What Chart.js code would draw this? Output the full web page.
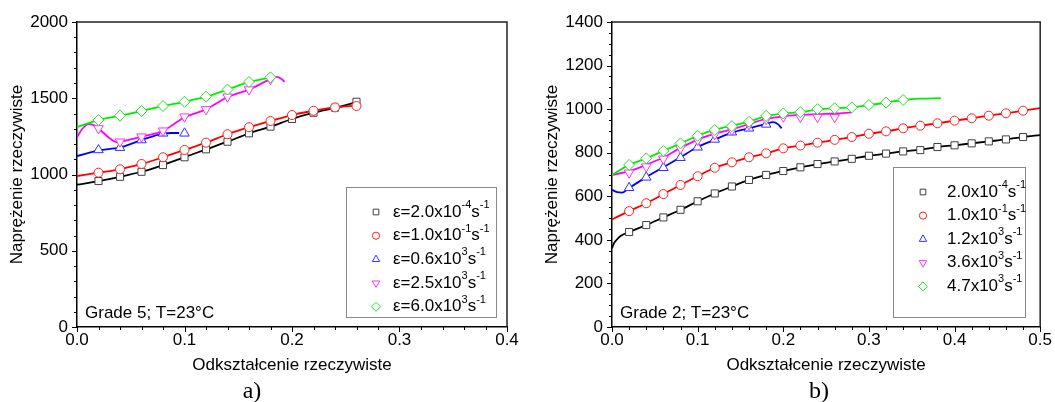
<!DOCTYPE html>
<html><head><meta charset="utf-8">
<script src="https://cdn.jsdelivr.net/npm/chart.js@4/dist/chart.umd.min.js"></script>
<style>
html,body{margin:0;padding:0;background:#fff;width:1055px;height:402px;overflow:hidden}
canvas{position:absolute;top:0}
#ca{left:0}
#cb{left:527px}
</style></head><body>
<canvas id="ca" width="527" height="402"></canvas>
<canvas id="cb" width="528" height="402"></canvas>
<script>
// ---------------- DATA ----------------
// Panel a) Grade 5 — strain-rate labels
const A_MANT = ['2.0', '1.0', '0.6', '2.5', '6.0'];
const A_EXP  = ['-4', '-1', '3', '3', '3'];
const A_NOTE = 'Grade 5; T=23°C';
// series 0 (2.0e-4)
const A0_LX = [0, 0.02, 0.04, 0.06, 0.08, 0.10, 0.12, 0.14, 0.16, 0.18, 0.20, 0.22, 0.24, 0.26];
const A0_LY = [933, 957, 985, 1018, 1062, 1113, 1165, 1215, 1270, 1314, 1364, 1405, 1438, 1474];
const A0_MX = [0.02, 0.04, 0.06, 0.08, 0.10, 0.12, 0.14, 0.16, 0.18, 0.20, 0.22, 0.24, 0.26];
const A0_MY = [957, 985, 1018, 1062, 1113, 1165, 1215, 1270, 1314, 1364, 1405, 1438, 1477];
// series 1 (1.0e-1)
const A1_LX = [0, 0.02, 0.04, 0.06, 0.08, 0.10, 0.12, 0.14, 0.16, 0.18, 0.20, 0.22, 0.24, 0.26];
const A1_LY = [990, 1012, 1034, 1069, 1113, 1161, 1209, 1264, 1310, 1351, 1390, 1418, 1440, 1452];
const A1_MX = [0.02, 0.04, 0.06, 0.08, 0.10, 0.12, 0.14, 0.16, 0.18, 0.20, 0.22, 0.24, 0.26];
const A1_MY = [1012, 1034, 1069, 1113, 1161, 1209, 1264, 1310, 1351, 1390, 1418, 1440, 1449];
// series 2 (0.6e3)
const A2_LX = [0, 0.02, 0.04, 0.06, 0.08, 0.088, 0.095];
const A2_LY = [1121, 1158, 1178, 1226, 1268, 1272, 1272];
const A2_MX = [0.02, 0.04, 0.06, 0.08, 0.10];
const A2_MY = [1161, 1176, 1226, 1270, 1270];
// series 3 (2.5e3)
const A3_LX = [0, 0.005, 0.011, 0.016, 0.02, 0.03, 0.037, 0.045, 0.06, 0.08, 0.09, 0.10, 0.12, 0.14, 0.16, 0.18, 0.186, 0.19, 0.193];
const A3_LY = [1245, 1300, 1330, 1322, 1302, 1240, 1212, 1222, 1248, 1285, 1330, 1375, 1427, 1507, 1557, 1625, 1640, 1628, 1608];
const A3_MX = [0.02, 0.04, 0.06, 0.08, 0.10, 0.12, 0.14, 0.16, 0.18];
const A3_MY = [1302, 1215, 1248, 1287, 1379, 1427, 1510, 1557, 1625];
// series 4 (6.0e3)
const A4_LX = [0, 0.02, 0.04, 0.06, 0.08, 0.10, 0.12, 0.14, 0.16, 0.18];
const A4_LY = [1311, 1357, 1386, 1416, 1449, 1477, 1510, 1557, 1605, 1637];
const A4_MX = [0.02, 0.04, 0.06, 0.08, 0.10, 0.12, 0.14, 0.16, 0.18];
const A4_MY = [1357, 1386, 1416, 1449, 1477, 1510, 1557, 1607, 1637];

// Panel b) Grade 2 — strain-rate labels
const B_MANT = ['2.0', '1.0', '1.2', '3.6', '4.7'];
const B_EXP  = ['-4', '-1', '3', '3', '3'];
const B_NOTE = 'Grade 2; T=23°C';
// series 0 (2.0e-4)
const B0_LX = [0, 0.002, 0.005, 0.01, 0.02, 0.04, 0.06, 0.08, 0.10, 0.12, 0.14, 0.16, 0.18, 0.20, 0.22, 0.24, 0.26, 0.28, 0.30, 0.32, 0.34, 0.36, 0.38, 0.40, 0.42, 0.44, 0.46, 0.48, 0.50];
const B0_LY = [361, 382, 398, 418, 436, 468, 503, 538, 577, 613, 645, 675, 698, 716, 733, 748, 760, 772, 786, 796, 806, 814, 826, 834, 843, 852, 861, 872, 881];
const B0_MX = [0.02, 0.04, 0.06, 0.08, 0.10, 0.12, 0.14, 0.16, 0.18, 0.20, 0.22, 0.24, 0.26, 0.28, 0.30, 0.32, 0.34, 0.36, 0.38, 0.40, 0.42, 0.44, 0.46, 0.48];
const B0_MY = [436, 468, 503, 538, 577, 613, 645, 675, 698, 716, 733, 748, 760, 772, 786, 796, 806, 812, 826, 834, 843, 852, 861, 872];
// series 1 (1.0e-1)
const B1_LX = [0, 0.02, 0.04, 0.06, 0.08, 0.10, 0.12, 0.14, 0.16, 0.18, 0.20, 0.22, 0.24, 0.26, 0.28, 0.30, 0.32, 0.34, 0.36, 0.38, 0.40, 0.42, 0.44, 0.46, 0.48, 0.50];
const B1_LY = [494, 532, 568, 610, 652, 692, 731, 756, 779, 797, 820, 833, 846, 859, 872, 887, 898, 912, 924, 935, 947, 958, 970, 981, 993, 1005];
const B1_MX = [0.02, 0.04, 0.06, 0.08, 0.10, 0.12, 0.14, 0.16, 0.18, 0.20, 0.22, 0.24, 0.26, 0.28, 0.30, 0.32, 0.34, 0.36, 0.38, 0.40, 0.42, 0.44, 0.46, 0.48];
const B1_MY = [532, 568, 610, 652, 692, 731, 756, 779, 797, 820, 833, 846, 859, 872, 887, 898, 912, 924, 935, 947, 958, 970, 981, 993];
// series 2 (1.2e3)
const B2_LX = [0, 0.006, 0.012, 0.02, 0.04, 0.06, 0.08, 0.10, 0.12, 0.14, 0.16, 0.18, 0.188, 0.194, 0.198];
const B2_LY = [630, 619, 617, 638, 688, 733, 779, 826, 860, 892, 912, 932, 940, 930, 912];
const B2_MX = [0.02, 0.04, 0.06, 0.08, 0.10, 0.12, 0.14, 0.16, 0.18];
const B2_MY = [639, 687, 731, 777, 825, 861, 894, 912, 930];
// series 3 (3.6e3)
const B3_LX = [0, 0.02, 0.04, 0.06, 0.08, 0.10, 0.12, 0.14, 0.16, 0.18, 0.20, 0.22, 0.24, 0.26, 0.28];
const B3_LY = [698, 715, 745, 778, 822, 860, 888, 907, 932, 955, 967, 973, 977, 980, 985];
const B3_MX = [0.02, 0.04, 0.06, 0.08, 0.10, 0.12, 0.14, 0.16, 0.18, 0.20, 0.22, 0.24, 0.26];
const B3_MY = [708, 736, 772, 820, 858, 884, 904, 930, 953, 965, 963, 963, 963];
// series 4 (4.7e3)
const B4_LX = [0, 0.02, 0.04, 0.06, 0.08, 0.10, 0.12, 0.14, 0.16, 0.18, 0.20, 0.22, 0.24, 0.26, 0.28, 0.30, 0.32, 0.34, 0.36, 0.384];
const B4_LY = [698, 744, 774, 808, 843, 878, 906, 924, 943, 968, 980, 986, 998, 1004, 1008, 1018, 1030, 1042, 1048, 1050];
const B4_MX = [0.02, 0.04, 0.06, 0.08, 0.10, 0.12, 0.14, 0.16, 0.18, 0.20, 0.22, 0.24, 0.26, 0.28, 0.30, 0.32, 0.34];
const B4_MY = [744, 774, 808, 843, 878, 904, 922, 942, 969, 980, 986, 1000, 1004, 1008, 1019, 1030, 1042];

// ---------------- STYLE ----------------
const SANS = "'Liberation Sans', Arial, sans-serif";
const SERIF = "'Liberation Serif', 'Times New Roman', serif";
const STYLE = [
  {line: '#000000', mk: '#404040', shape: 'rect',     rot: 0,   r: 5,   lr: 4},
  {line: '#ff0000', mk: '#ff2020', shape: 'circle',   rot: 0,   r: 4.5, lr: 3.6},
  {line: '#0000ff', mk: '#3030ff', shape: 'triangle', rot: 0,   r: 5.5, lr: 4.3},
  {line: '#ff00ff', mk: '#ff30ff', shape: 'triangle', rot: 180, r: 5.5, lr: 4.3},
  {line: '#00ee00', mk: '#20e020', shape: 'rectRot',  rot: 0,   r: 5.5, lr: 4.5}
];

function pts(xs, ys) { return xs.map((x, i) => ({x: x, y: ys[i]})); }

function buildDatasets(series) {
  const ds = [];
  series.forEach((s, i) => {
    const st = STYLE[i];
    ds.push({
      data: pts(s.lx, s.ly), showLine: true, pointRadius: 0,
      borderColor: st.line, borderWidth: 1.8, cubicInterpolationMode: 'monotone',
      order: 100 - 2 * i
    });
    ds.push({
      data: pts(s.mx, s.my), showLine: false,
      pointStyle: st.shape, pointRotation: st.rot, pointRadius: st.r,
      pointBorderColor: st.mk, pointBackgroundColor: '#ffffff', pointBorderWidth: 1,
      order: 99 - 2 * i
    });
  });
  return ds;
}

function mark(ctx, shape, rot, r, x, y) {
  ctx.beginPath();
  if (shape === 'circle') ctx.arc(x, y, r, 0, Math.PI * 2);
  else if (shape === 'rect') { const h = r * Math.SQRT1_2; ctx.rect(x - h, y - h, 2 * h, 2 * h); }
  else if (shape === 'rectRot') { ctx.moveTo(x - r, y); ctx.lineTo(x, y - r); ctx.lineTo(x + r, y); ctx.lineTo(x, y + r); ctx.closePath(); }
  else { const s = rot === 180 ? -1 : 1; ctx.moveTo(x, y - s * r); ctx.lineTo(x + r * 0.866, y + s * r * 0.5); ctx.lineTo(x - r * 0.866, y + s * r * 0.5); ctx.closePath(); }
  ctx.fill(); ctx.stroke();
}

const deco = {
  id: 'deco',
  afterDraw(chart, args, o) {
    const ctx = chart.ctx, ca = chart.chartArea, xs = chart.scales.x, ys = chart.scales.y;
    ctx.save();
    ctx.strokeStyle = '#000'; ctx.lineWidth = 1;
    const nx = Math.round((xs.max - xs.min) / o.xMinor);
    for (let i = 0; i <= nx; i++) {
      const px = Math.round(xs.getPixelForValue(xs.min + i * o.xMinor)) + 0.5;
      ctx.beginPath(); ctx.moveTo(px, ca.bottom); ctx.lineTo(px, ca.bottom + (i % o.xPer === 0 ? 5 : 3)); ctx.stroke();
    }
    const ny = Math.round((ys.max - ys.min) / o.yMinor);
    for (let i = 0; i <= ny; i++) {
      const py = Math.round(ys.getPixelForValue(ys.min + i * o.yMinor)) + 0.5;
      ctx.beginPath(); ctx.moveTo(ca.left, py); ctx.lineTo(ca.left - (i % o.yPer === 0 ? 5 : 3), py); ctx.stroke();
    }
    // frame top/right
    ctx.strokeStyle = '#222'; ctx.lineWidth = 1.5;
    ctx.beginPath(); ctx.moveTo(ca.left, ca.top); ctx.lineTo(ca.right, ca.top); ctx.lineTo(ca.right, ca.bottom); ctx.stroke();
    // note
    ctx.fillStyle = '#000'; ctx.textAlign = 'left'; ctx.textBaseline = 'alphabetic';
    ctx.font = '17px ' + SANS;
    ctx.fillText(o.note, ca.left + 8, ca.bottom - 9);
    // panel label
    ctx.font = '24px ' + SERIF; ctx.textAlign = 'center';
    ctx.fillText(o.panel, o.panelX, 398);
    // legend
    const L = o.legend;
    ctx.strokeStyle = '#8a8a8a'; ctx.lineWidth = 1;
    ctx.strokeRect(L.x + 0.5, L.y + 0.5, L.w, L.h);
    ctx.textAlign = 'left'; ctx.textBaseline = 'middle';
    L.mant.forEach((m, i) => {
      const st = STYLE[i];
      const cy = L.y0 + i * L.dy;
      ctx.fillStyle = '#fff'; ctx.strokeStyle = st.mk; ctx.lineWidth = 1;
      mark(ctx, st.shape, st.rot, st.lr, L.mx, cy);
      ctx.fillStyle = '#000';
      const parts = [[L.prefix + m + 'x10', 0], [L.exp[i], 1], ['s', 0], ['-1', 1]];
      let x = L.tx;
      parts.forEach(p => {
        ctx.font = p[1] ? '11px ' + SANS : '17px ' + SANS;
        ctx.fillText(p[0], x, p[1] ? cy - 7 : cy);
        x += ctx.measureText(p[0]).width;
      });
    });
    ctx.restore();
  }
};

function makeChart(id, cfg) {
  const tickFont = {family: SANS, size: 17};
  return new Chart(document.getElementById(id), {
    type: 'scatter',
    data: {datasets: buildDatasets(cfg.series)},
    options: {
      responsive: false, animation: false, devicePixelRatio: 1, events: [],
      layout: {padding: {left: 0, top: 22, right: cfg.padRight, bottom: 0}},
      plugins: {
        legend: {display: false}, tooltip: {enabled: false},
        deco: cfg.deco
      },
      scales: {
        x: {
          type: 'linear', min: 0, max: cfg.xMax,
          ticks: {stepSize: 0.1, callback: v => v.toFixed(1), font: tickFont, color: '#000', padding: 3, maxRotation: 0, autoSkip: false},
          grid: {display: false, drawTicks: false},
          border: {display: true, color: '#000', width: 1.5},
          title: {display: true, text: 'Odkształcenie rzeczywiste', font: tickFont, color: '#000', padding: {top: 0, bottom: 26}},
          afterFit: s => { s.height = 75; }
        },
        y: {
          type: 'linear', min: 0, max: cfg.yMax,
          ticks: {stepSize: cfg.yStep, callback: v => String(v), font: tickFont, color: '#000', padding: 9},
          grid: {display: false, drawTicks: false},
          border: {display: true, color: '#000', width: 1.5},
          title: {display: true, text: 'Naprężenie rzeczywiste', font: tickFont, color: '#000', padding: {top: cfg.yTitlePad, bottom: 0}},
          afterFit: s => { s.width = cfg.yWidth; }
        }
      }
    },
    plugins: [deco]
  });
}

makeChart('ca', {
  xMax: 0.4, yMax: 2000, yStep: 500, yWidth: 77, padRight: 20, yTitlePad: 7,
  series: [
    {lx: A0_LX, ly: A0_LY, mx: A0_MX, my: A0_MY},
    {lx: A1_LX, ly: A1_LY, mx: A1_MX, my: A1_MY},
    {lx: A2_LX, ly: A2_LY, mx: A2_MX, my: A2_MY},
    {lx: A3_LX, ly: A3_LY, mx: A3_MX, my: A3_MY},
    {lx: A4_LX, ly: A4_LY, mx: A4_MX, my: A4_MY}
  ],
  deco: {
    xMinor: 0.02, xPer: 5, yMinor: 100, yPer: 5,
    note: A_NOTE, panel: 'a)', panelX: 252,
    legend: {x: 346, y: 187, w: 150, h: 130, y0: 212, dy: 23.7, mx: 376, tx: 393, prefix: 'ε=', mant: A_MANT, exp: A_EXP}
  }
});

makeChart('cb', {
  xMax: 0.5, yMax: 1400, yStep: 200, yWidth: 85, padRight: 14, yTitlePad: 15,
  series: [
    {lx: B0_LX, ly: B0_LY, mx: B0_MX, my: B0_MY},
    {lx: B1_LX, ly: B1_LY, mx: B1_MX, my: B1_MY},
    {lx: B2_LX, ly: B2_LY, mx: B2_MX, my: B2_MY},
    {lx: B3_LX, ly: B3_LY, mx: B3_MX, my: B3_MY},
    {lx: B4_LX, ly: B4_LY, mx: B4_MX, my: B4_MY}
  ],
  deco: {
    xMinor: 0.02, xPer: 5, yMinor: 50, yPer: 4,
    note: B_NOTE, panel: 'b)', panelX: 292,
    legend: {x: 366, y: 167, w: 132, h: 150, y0: 192, dy: 23.6, mx: 396, tx: 420, prefix: '', mant: B_MANT, exp: B_EXP}
  }
});
</script>
</body></html>
